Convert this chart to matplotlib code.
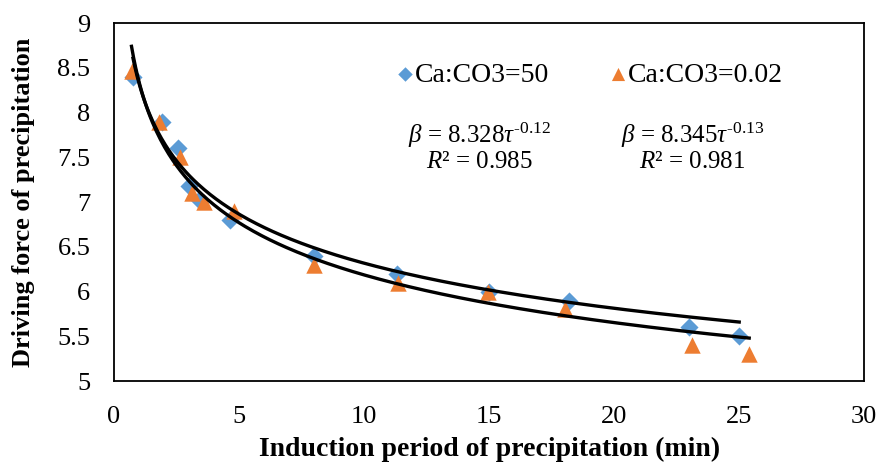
import numpy as np
import matplotlib
matplotlib.use("Agg")
import matplotlib.pyplot as plt

plt.rcParams['font.family'] = ['Liberation Serif', 'DejaVu Serif']
plt.rcParams['mathtext.fontset'] = 'custom'
plt.rcParams['mathtext.rm'] = 'Liberation Serif'
plt.rcParams['mathtext.it'] = 'Liberation Serif:italic'

# data
tau_50 = [0.76, 1.9, 2.55, 3.0, 3.4, 4.65, 8.0, 11.3, 15.0, 18.2, 23.0, 25.0]
beta_50 = [8.40, 7.90, 7.60, 7.18, 7.02, 6.80, 6.40, 6.20, 6.00, 5.90, 5.60, 5.50]
tau_002 = [0.7, 1.8, 2.65, 3.1, 3.6, 4.8, 8.0, 11.35, 14.95, 18.05, 23.1, 25.4]
beta_002 = [8.47, 7.90, 7.50, 7.10, 7.00, 6.90, 6.30, 6.10, 6.00, 5.80, 5.40, 5.30]

# power trendline coefficients shown on the chart
fit_50 = (8.328, -0.12)
fit_002 = (8.345, -0.13)

blue = '#5B9BD5'
orange = '#ED7D31'
fs = 19

fig = plt.figure(figsize=(8.79, 4.63), dpi=100)
ax = fig.add_axes([0.1297, 0.177, 0.8535, 0.773])

ax.scatter(tau_50, beta_50, marker='D', s=85, color=blue, lw=0, zorder=2,
           label='Ca:CO3=50')
ax.scatter(tau_002, beta_002, marker='^', s=140, color=orange, lw=0, zorder=2,
           label='Ca:CO3=0.02')

for taus, (a, b) in [(tau_50, fit_50), (tau_002, fit_002)]:
    t = np.linspace(min(taus), max(taus), 300)
    ax.plot(t, a * t ** b, color='black', lw=2.4, zorder=3)

ax.set_xlim(0, 30)
ax.set_ylim(5, 9)
ax.set_xticks(np.arange(0, 31, 5))
ax.set_yticks(np.arange(5, 9.01, 0.5))
ax.set_yticklabels(['5', '5.5', '6', '6.5', '7', '7.5', '8', '8.5', '9'])
ax.tick_params(length=0, labelsize=fs)
ax.tick_params(axis='x', pad=18)
ax.tick_params(axis='y', pad=17)
for s in ax.spines.values():
    s.set_linewidth(1.3)

ax.set_xlabel('Induction period of precipitation (min)', fontsize=20,
              fontweight='bold', labelpad=6)
ax.set_ylabel('Driving force of precipitation', fontsize=fs,
              fontweight='bold', labelpad=16)

ax.legend(loc='center left', bbox_to_anchor=(0.343, 0.855), ncol=2, frameon=False,
          fontsize=20, handlelength=0.6, handletextpad=0.05, columnspacing=2.2,
          markerscale=0.8)

hy = '\u2010'
ax.text(0.487, 0.655, r'$\beta$ = 8.328$\tau^{\mathrm{' + hy + '0.12}}$' + '\n' + r'$R$² = 0.985',
        transform=ax.transAxes, ha='center', va='center', fontsize=18,
        linespacing=1.05)
ax.text(0.771, 0.655, r'$\beta$ = 8.345$\tau^{\mathrm{' + hy + '0.13}}$' + '\n' + r'$R$² = 0.981',
        transform=ax.transAxes, ha='center', va='center', fontsize=18,
        linespacing=1.05)

fig.savefig('out.png', dpi=100)
